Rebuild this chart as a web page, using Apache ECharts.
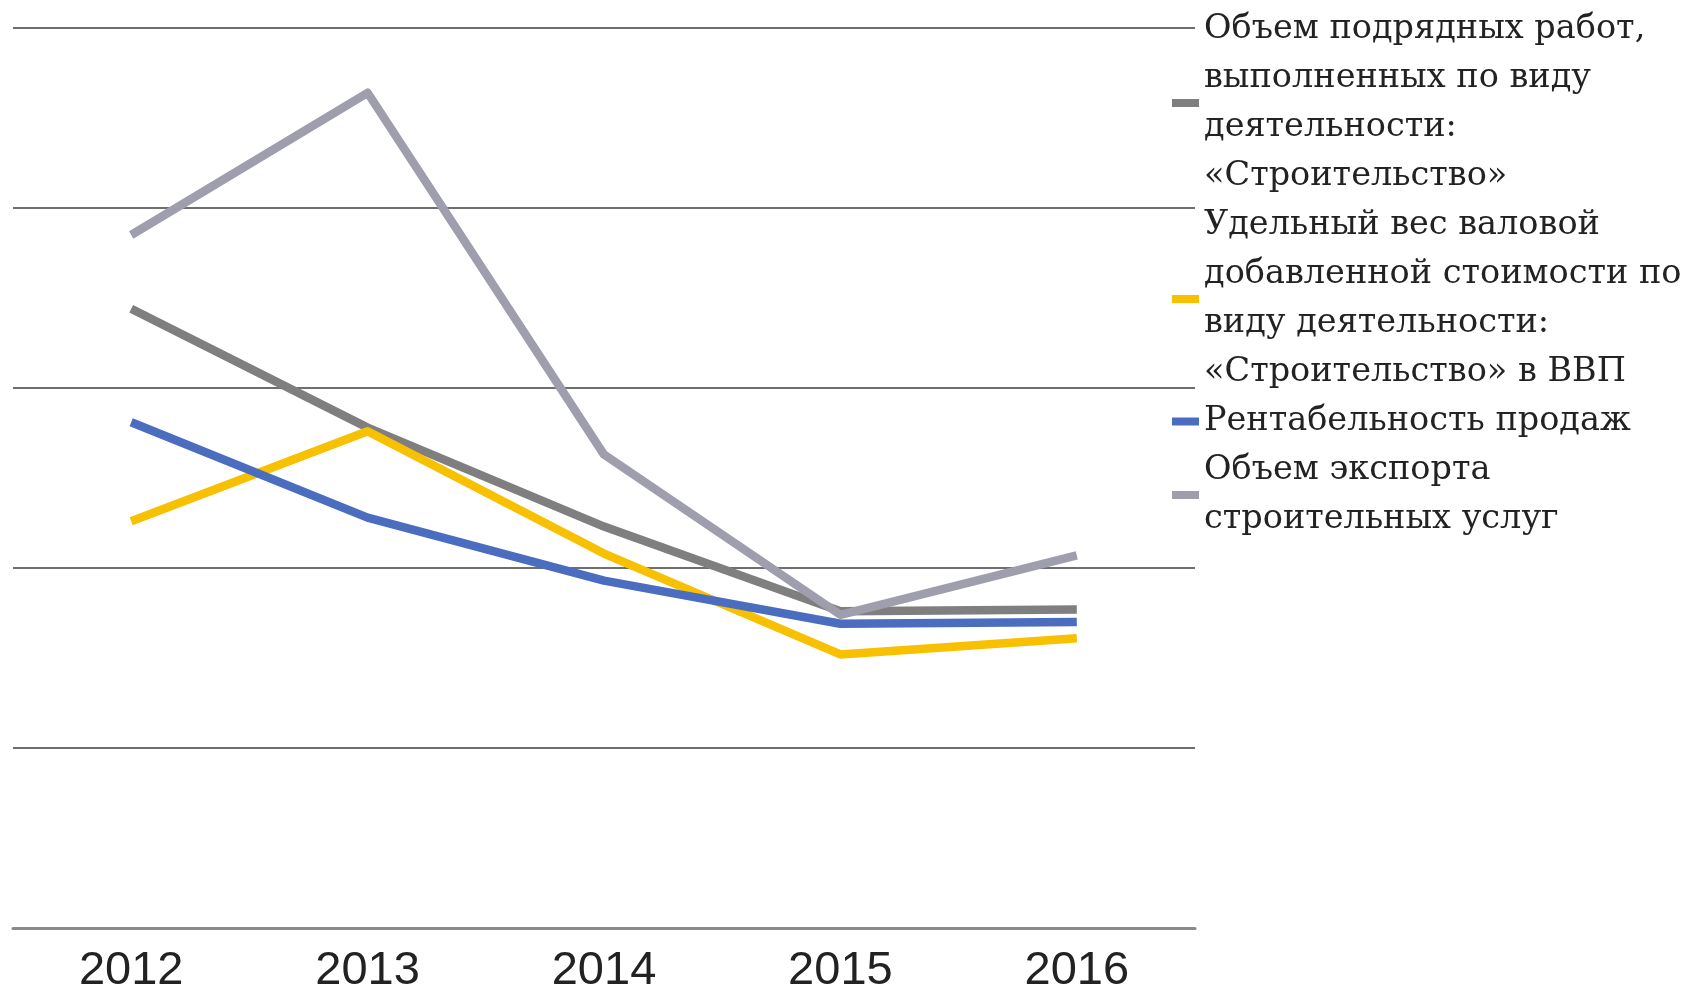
<!DOCTYPE html>
<html>
<head>
<meta charset="utf-8">
<script src="https://cdn.jsdelivr.net/npm/echarts@6/dist/echarts.min.js"></script>
<style>
html,body{margin:0;padding:0;background:#fff;}
#chart{width:1699px;height:996px;}
</style>
</head>
<body>
<div id="chart"></div>
<script>
const categories = ['2012', '2013', '2014', '2015', '2016'];
const seriesNames = [
  'Объем подрядных работ,\nвыполненных по виду\nдеятельности:\n«Строительство»',
  'Удельный вес валовой\nдобавленной стоимости по\nвиду деятельности:\n«Строительство» в ВВП',
  'Рентабельность продаж',
  'Объем экспорта\nстроительных услуг'
];
const contractWork = [3.44, 2.78, 2.23, 1.76, 1.77];
const gvaShare = [2.26, 2.76, 2.08, 1.52, 1.61];
const salesProfitability = [2.81, 2.28, 1.93, 1.69, 1.70];
const exportVolume = [3.85, 4.64, 2.63, 1.74, 2.07];
const seriesColors = ['#7f7f7f', '#f7c000', '#4a6dbf', '#9e9eac'];

const dataSets = [contractWork, gvaShare, salesProfitability, exportVolume];

const chart = echarts.init(document.getElementById('chart'), null, {renderer: 'canvas'});
chart.setOption({
  animation: false,
  backgroundColor: '#ffffff',
  grid: {left: 13, right: 504, top: 28, bottom: 68, containLabel: false},
  legend: {
    orient: 'vertical',
    left: 1167,
    top: 0,
    itemGap: 0,
    itemWidth: 27,
    itemHeight: 8,
    icon: 'rect',
    data: seriesNames,
    textStyle: {
      fontFamily: 'DejaVu Serif',
      fontSize: 33.5,
      lineHeight: 49,
      color: '#222222'
    }
  },
  xAxis: {
    type: 'category',
    data: categories,
    boundaryGap: true,
    axisLine: {show: true, lineStyle: {color: '#8a8a8a', width: 3}},
    axisTick: {show: false},
    axisLabel: {
      fontFamily: 'Liberation Sans',
      fontSize: 47,
      color: '#222222',
      margin: 20
    },
    splitLine: {show: false}
  },
  yAxis: {
    type: 'value',
    min: 0,
    max: 5,
    interval: 1,
    axisLine: {show: false},
    axisTick: {show: false},
    axisLabel: {show: false},
    splitLine: {show: true, lineStyle: {color: '#6e6e6e', width: 2}}
  },
  series: dataSets.map((d, i) => ({
    name: seriesNames[i],
    type: 'line',
    data: d,
    symbol: 'none',
    showSymbol: false,
    lineStyle: {color: seriesColors[i], width: 8.5, join: 'round'},
    itemStyle: {color: seriesColors[i]},
    z: 2 + i
  }))
});
</script>
</body>
</html>
